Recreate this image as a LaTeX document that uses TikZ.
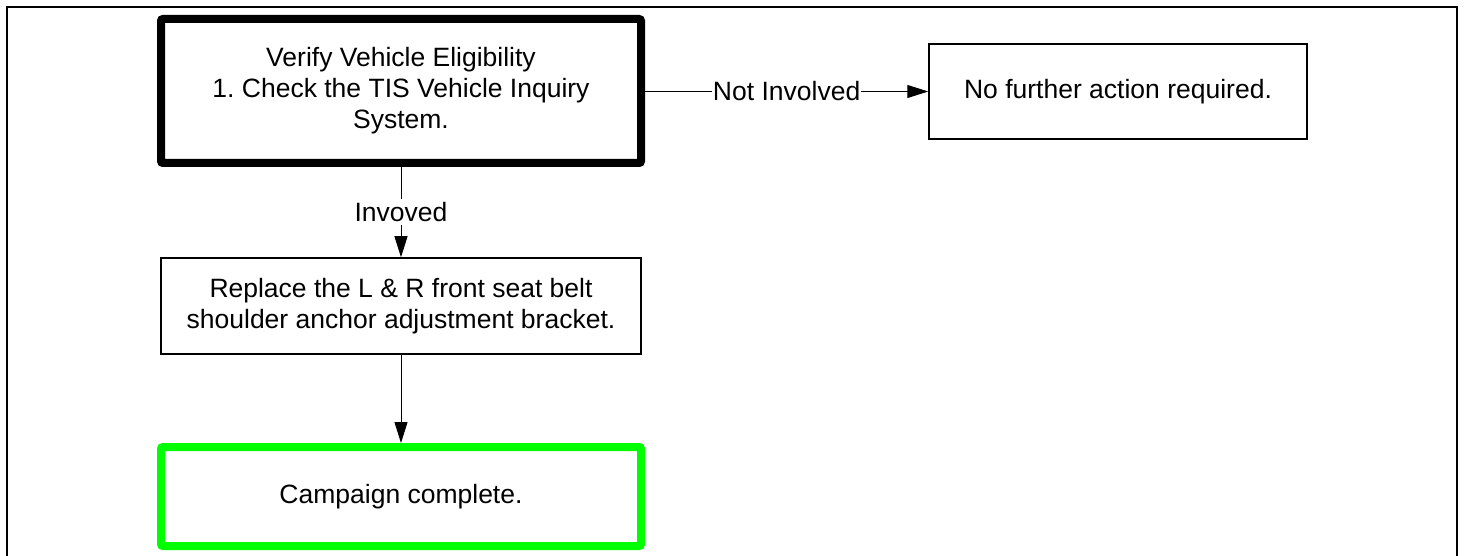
\documentclass[tikz,border=0pt]{standalone}
\usepackage{fontspec}
\setmainfont{Liberation Sans}
\usetikzlibrary{arrows.meta}

\tikzset{
	stepbox/.style={draw, line width=1.5pt, align=center, inner sep=0pt},
	flowline/.style={line width=1pt, -{Triangle[length=21pt,width=13pt]}}
}

\begin{document}
\frenchspacing
\begin{tikzpicture}[x=1pt, y=-1pt, every node/.style={font=\fontsize{26.5}{31}\selectfont}]
		\useasboundingbox (0,0) rectangle (1465,556);
		% frame, open at the bottom
		\draw [line width=2.5pt] (7,556) -- (7,7) -- (1457,7) -- (1457,556);
		\node [stepbox, line width=8pt, rounded corners=2pt, minimum width=480pt, minimum height=144pt] (verify) at (401,91) {
			Verify Vehicle Eligibility\\
			1. Check the TIS Vehicle Inquiry\\
			System.
		};
		\node [stepbox, minimum width=378pt, minimum height=95pt] (nofurther) at (1118,91.5) {No further action required.};
		\node [stepbox, minimum width=480pt, minimum height=96pt] (replace) at (401,306) {
			Replace the L \& R front seat belt\\
			shoulder anchor adjustment bracket.
		};
		\node [stepbox, draw={rgb,255:red,0;green,255;blue,0}, line width=8pt, rounded corners=2pt, minimum width=480pt, minimum height=99pt] (complete) at (401,496.5) {Campaign complete.};
		% connectors
		\draw [flowline] (verify.east |- nofurther.west) -- node [fill=white, inner sep=1pt] {Not Involved} (nofurther.west);
		\draw [flowline] (verify.south) -- node [fill=white, inner sep=3pt] {Invoved} (replace.north);
		\draw [flowline] (replace.south) -- (complete.north);
	\end{tikzpicture}
\end{document}
